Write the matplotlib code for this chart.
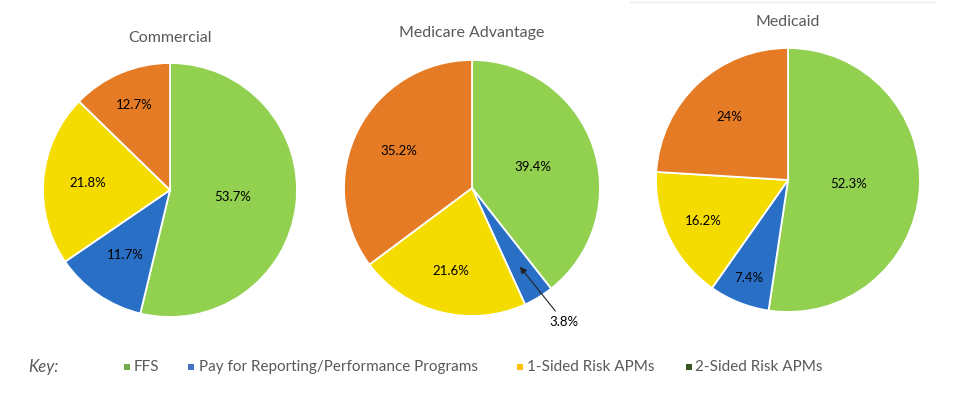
import matplotlib
matplotlib.use("Agg")
import matplotlib.pyplot as plt
import numpy as np
from matplotlib.patches import Rectangle
from matplotlib.lines import Line2D

W, H = 967, 405

titles = ["Commercial", "Medicare Advantage", "Medicaid"]
ffs = [53.7, 39.4, 52.3]
pay_for_perf = [11.7, 3.8, 7.4]
one_sided = [21.8, 21.6, 16.2]
two_sided = [12.7, 35.2, 24.0]
value_labels = [["53.7%", "11.7%", "21.8%", "12.7%"],
                ["39.4%", "3.8%", "21.6%", "35.2%"],
                ["52.3%", "7.4%", "16.2%", "24%"]]
legend_labels = ["FFS", "Pay for Reporting/Performance Programs",
                 "1-Sided Risk APMs", "2-Sided Risk APMs"]

slice_colors = ["#92D050", "#2A6FC6", "#F5DC00", "#E57B25"]
legend_colors = ["#70AD47", "#4472C4", "#FFC000", "#375623"]

# layout (pixels): center x, center y, radius, title y
layout = [(170, 190, 127, 38), (472, 188, 128, 33), (788, 180, 132, 22)]
label_dist = [[0.50, 0.62, 0.65, 0.73],
              [0.50, None, 0.67, 0.64],
              [0.46, 0.80, 0.71, 0.65]]

FONT = "Lato"
fig = plt.figure(figsize=(W / 100, H / 100), dpi=100)
fig.patch.set_facecolor("white")

for i in range(3):
    cx, cy, r, ty = layout[i]
    ax = fig.add_axes([(cx - r) / W, (H - cy - r) / H, 2 * r / W, 2 * r / H])
    vals = [ffs[i], pay_for_perf[i], one_sided[i], two_sided[i]]
    wedges, _ = ax.pie(vals, colors=slice_colors, startangle=90, counterclock=False,
                       radius=1.0, wedgeprops=dict(edgecolor="white", linewidth=1.3))
    ax.set_xlim(-1.0, 1.0)
    ax.set_ylim(-1.0, 1.0)
    ax.set_aspect("equal")
    ax.axis("off")
    for j, w in enumerate(wedges):
        ang = np.deg2rad((w.theta1 + w.theta2) / 2)
        d = label_dist[i][j]
        if d is None:
            tip = (0.72 * np.cos(ang), 0.72 * np.sin(ang))
            ax.annotate(value_labels[i][j], xy=tip, xytext=(0.72, -1.0),
                        ha="center", va="top", fontsize=9.5, family=FONT, color="#000000",
                        arrowprops=dict(arrowstyle="-|>", color="#222222", lw=0.8,
                                        mutation_scale=10, shrinkA=2, shrinkB=0),
                        annotation_clip=False)
        else:
            ax.text(d * np.cos(ang), d * np.sin(ang), value_labels[i][j],
                    ha="center", va="center", fontsize=9.5, family=FONT, color="#000000")
    fig.text(cx / W, 1 - ty / H, titles[i], ha="center", va="center",
             fontsize=11.5, family=FONT, color="#595959")

# faint line at top right
fig.add_artist(Line2D([630 / W, 935 / W], [1 - 2 / H, 1 - 2 / H], color="#EDEDED", lw=1))

# key
ky = 1 - 367 / H
fig.text(28 / W, ky, "Key:", ha="left", va="center", fontsize=12, style="italic",
         family=FONT, color="#595959")
sq_x = [124, 188, 517, 686]
tx_x = [134, 199, 527, 695]
for c, sx, tx, lab in zip(legend_colors, sq_x, tx_x, legend_labels):
    fig.add_artist(Rectangle((sx / W, ky - 3 / H), 6 / W, 6 / H, facecolor=c,
                             edgecolor="none", transform=fig.transFigure))
    fig.text(tx / W, ky, lab, ha="left", va="center", fontsize=11, family=FONT,
             color="#595959")

fig.savefig("out.png", dpi=100, facecolor="white")
